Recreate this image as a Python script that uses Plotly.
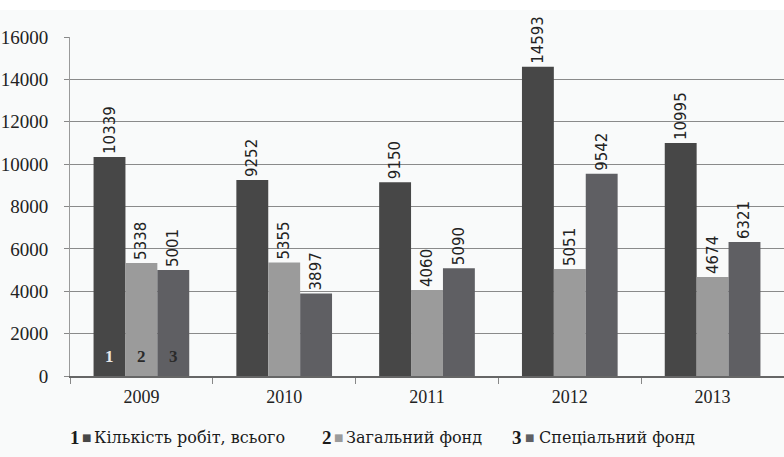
import plotly.graph_objects as go

years = ["2009", "2010", "2011", "2012", "2013"]
total_works = [10339, 9252, 9150, 14593, 10995]
general_fund = [5338, 5355, 4060, 5051, 4674]
special_fund = [5001, 3897, 5090, 9542, 6321]
series_names = ["Кількість робіт, всього", "Загальний фонд", "Спеціальний фонд"]
series_nums = ["1", "2", "3"]
y_ticks = [0, 2000, 4000, 6000, 8000, 10000, 12000, 14000, 16000]
y_tick_text = [str(v) for v in y_ticks]

SERIF = "Liberation Serif, DejaVu Serif, Times New Roman, serif"
CYR_SERIF = "DejaVu Serif, Liberation Serif, serif"
colors = ["#474747", "#9b9b9b", "#5f5f63"]
W, H = 784, 457
ML, MR, MT, MB = 70, 0, 37, 81
plot_w = W - ML - MR
plot_h = H - MT - MB

fig = go.Figure()
for name, vals, col in zip(series_names, [total_works, general_fund, special_fund], colors):
    fig.add_trace(go.Bar(
        x=years, y=vals, name=name, marker=dict(color=col, line=dict(width=0)),
        text=[str(v) for v in vals], textposition="outside", textangle=-90,
        textfont=dict(family="DejaVu Sans", size=15, color="#222222"),
        constraintext="none", cliponaxis=False, showlegend=False,
    ))

bargap = 0.33
bw = (1 - bargap) / 3
anns = []
num_colors = ["#e8e8e8", "#2a2a2a", "#2a2a2a"]
for i, (n, c) in enumerate(zip(series_nums, num_colors)):
    anns.append(dict(x=(i - 1) * bw, y=400, xref="x", yref="y", text="<b>" + n + "</b>",
                     showarrow=False, font=dict(family=SERIF, size=17, color=c),
                     yanchor="bottom"))

# legend drawn as annotations (pixel positions of number, swatch, label)
legend_y = -(437 - (MT + plot_h)) / plot_h
num_px = [69, 321, 511]
sq_px = [81, 333, 524]
txt_px = [93, 345, 538]
for n, name, col, p1, p2, p3 in zip(series_nums, series_names, colors, num_px, sq_px, txt_px):
    anns.append(dict(
        x=(p1 - ML) / plot_w, y=legend_y, xref="paper", yref="paper",
        xanchor="left", yanchor="middle", showarrow=False, borderpad=0,
        text="<b>" + n + "</b>",
        font=dict(family=SERIF, size=19, color="#1a1a1a"),
    ))
    anns.append(dict(
        x=(p2 - ML) / plot_w, y=legend_y, xref="paper", yref="paper",
        xanchor="left", yanchor="middle", showarrow=False, borderpad=0,
        text="■", font=dict(family="DejaVu Sans", size=10, color=col),
    ))
    anns.append(dict(
        x=(p3 - ML) / plot_w, y=legend_y, xref="paper", yref="paper",
        xanchor="left", yanchor="middle", showarrow=False, borderpad=0,
        text=name, font=dict(family=CYR_SERIF, size=16, color="#1a1a1a"),
    ))

fig.update_layout(
    width=W, height=H, barmode="group", bargap=bargap, bargroupgap=0,
    margin=dict(l=ML, r=MR, t=MT, b=MB, autoexpand=False),
    paper_bgcolor="#f9fafa", plot_bgcolor="#f9fafa",
    annotations=anns,
    shapes=[dict(type="rect", xref="paper", yref="paper", x0=-0.2, x1=1.1,
                 y0=(plot_h + MT - 10) / plot_h, y1=(plot_h + MT + 5) / plot_h,
                 fillcolor="white", line=dict(width=0), layer="below")],
    xaxis=dict(type="category", tickson="boundaries", ticks="outside", ticklen=6,
               tickcolor="#888888", showline=True, linecolor="#666666", linewidth=1.5,
               showgrid=False, automargin=False,
               tickfont=dict(family=SERIF, size=18, color="#222222"),
               ticklabelstandoff=4),
    yaxis=dict(range=[0, 16000], tickvals=y_ticks, ticktext=y_tick_text, ticks="outside",
               ticklen=5, tickcolor="#888888", showline=True, linecolor="#9a9a9a", linewidth=1,
               gridcolor="#8a8a8a", gridwidth=1, zeroline=False, automargin=False,
               tickfont=dict(family=SERIF, size=19, color="#222222"),
               ticklabelstandoff=12),
)

fig.write_html("out.html", config={"displayModeBar": False},
               post_script="document.body.style.margin='0';document.body.style.background='white';")
